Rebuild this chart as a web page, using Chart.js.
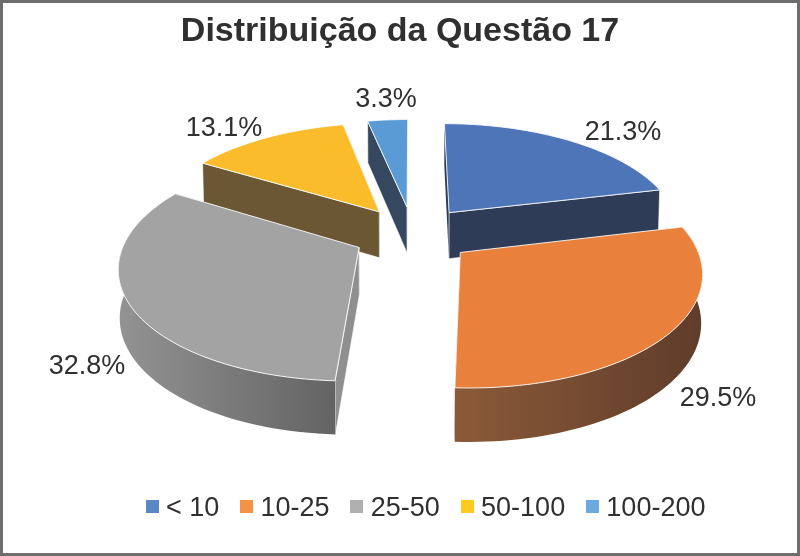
<!DOCTYPE html>
<html>
<head>
<meta charset="utf-8">
<title>Distribuição da Questão 17</title>
<script src="https://cdn.jsdelivr.net/npm/chart.js@4"></script>
<style>
  html, body { margin: 0; padding: 0; background: #fff; }
  canvas { display: block; }
</style>
</head>
<body>
<canvas id="pieChart" width="800" height="556"></canvas>
<script>
const categories = ['< 10', '10-25', '25-50', '50-100', '100-200'];
const shares = [21.3, 29.5, 32.8, 13.1, 3.3];

const legendColors = ['#5b87c5', '#f4924a', '#b0b0b0', '#ffc91e', '#6ca9de'];
const topColors = ['#4e75b8', '#e9803c', '#a3a3a3', '#fbbc2b', '#5b9bd5'];
const cutColors = ['#2f3c58', '#8b5a38', '#8f8f8f', '#6c5735', '#35485f'];
const wallLeft = ['#2f3c58', '#8b5a38', '#939393', '#6c5735', '#35485f'];
const wallRight = ['#2f3c58', '#5f3c2b', '#636363', '#6c5735', '#35485f'];

// where each percentage sits, centre of the text
const labelAnchors = [[623, 133], [718, 399], [87, 367], [224, 129], [386, 100]];

// the 3D look: ground plane of the pie seen in perspective
const view = { cx: 413, cy: 234, radius: 232, explode: 60, tilt: 0.468, far: 1517, depth: 47, baseShrink: 0.995 };
const legendShift = 28.5;

function project(x, y, low) {
    const w = 1 / (1 - y / view.far);
    let sx = x * w;
    let sy = view.cy + view.tilt * y * w;
    if (low) {
        sx *= view.baseShrink;
        sy += view.depth * Math.pow(w, 0.7);
    }
    return [view.cx + sx, sy];
}

function tracePoly(ctx, pts) {
    ctx.beginPath();
    pts.forEach((p, i) => i ? ctx.lineTo(p[0], p[1]) : ctx.moveTo(p[0], p[1]));
    ctx.closePath();
}

function drawSlice(ctx, arc, i) {
    const a0 = arc.startAngle;
    const a1 = arc.endAngle;
    const mid = (a0 + a1) / 2;
    const ox = view.explode * Math.cos(mid);
    const oy = view.explode * Math.sin(mid);
    const rim = a => [ox + view.radius * Math.cos(a), oy + view.radius * Math.sin(a)];

    // the two cut faces, the one turned away first
    const faces = [
        { a: a0, facing: -Math.cos(a0) },
        { a: a1, facing: Math.cos(a1) }
    ].sort((f, g) => f.facing - g.facing);
    faces.forEach(f => {
        const r = rim(f.a);
        tracePoly(ctx, [project(ox, oy), project(r[0], r[1]), project(r[0], r[1], true), project(ox, oy, true)]);
        ctx.fillStyle = cutColors[i];
        ctx.fill();
        if (f.facing > 0) {
            ctx.strokeStyle = 'rgba(255,255,255,0.8)';
            ctx.lineWidth = 0.8;
            ctx.stroke();
        }
    });

    // outer wall
    const steps = 64;
    const upper = [];
    const lower = [];
    for (let s = 0; s <= steps; s++) {
        const a = a0 + (a1 - a0) * s / steps;
        if (Math.sin(a) < -0.25) continue;
        const r = rim(a);
        upper.push(project(r[0], r[1]));
        lower.push(project(r[0], r[1], true));
    }
    if (upper.length > 1) {
        const xs = upper.concat(lower).map(p => p[0]);
        const grad = ctx.createLinearGradient(Math.min(...xs), 0, Math.max(...xs), 0);
        grad.addColorStop(0, wallLeft[i]);
        grad.addColorStop(1, wallRight[i]);
        tracePoly(ctx, upper.concat(lower.reverse()));
        ctx.fillStyle = grad;
        ctx.fill();
    }

    // top face
    const top = [project(ox, oy)];
    for (let s = 0; s <= steps; s++) {
        const r = rim(a0 + (a1 - a0) * s / steps);
        top.push(project(r[0], r[1]));
    }
    tracePoly(ctx, top);
    ctx.fillStyle = topColors[i];
    ctx.fill();
    ctx.strokeStyle = 'rgba(255,255,255,0.85)';
    ctx.lineWidth = 1;
    ctx.stroke();
}

const pie3d = {
    id: 'pie3d',
    afterLayout(chart) {
        chart.legend.left += legendShift;
        chart.legend.right += legendShift;
    },
    beforeDraw(chart) {
        const ctx = chart.ctx;
        ctx.save();
        ctx.strokeStyle = '#6e6e6e';
        ctx.lineWidth = 3;
        ctx.strokeRect(1.5, 1.5, chart.width - 3, chart.height - 3);
        ctx.restore();
    },
    beforeDatasetsDraw(chart) {
        const ctx = chart.ctx;
        const arcs = chart.getDatasetMeta(0).data;
        const order = arcs.map((arc, i) => i).sort((p, q) => {
            const mp = (arcs[p].startAngle + arcs[p].endAngle) / 2;
            const mq = (arcs[q].startAngle + arcs[q].endAngle) / 2;
            return Math.sin(mp) - Math.sin(mq);
        });
        ctx.save();
        order.forEach(i => drawSlice(ctx, arcs[i], i));
        ctx.fillStyle = '#303030';
        ctx.font = '27px "Liberation Sans"';
        ctx.textAlign = 'center';
        ctx.textBaseline = 'middle';
        shares.forEach((v, i) => ctx.fillText(v.toFixed(1) + '%', labelAnchors[i][0], labelAnchors[i][1]));
        ctx.restore();
        return false; // flat arcs are replaced by the faces above
    }
};

function legendSquare(color) {
    // extra clear rows at the bottom lift the square up to the text's middle
    const c = document.createElement('canvas');
    c.width = 13;
    c.height = 17;
    const g = c.getContext('2d');
    g.fillStyle = color;
    g.fillRect(0, 0, 13, 13);
    return c;
}

new Chart(document.getElementById('pieChart'), {
    type: 'pie',
    data: {
        labels: categories,
        datasets: [{ data: shares, backgroundColor: legendColors, borderWidth: 0 }]
    },
    plugins: [pie3d],
    options: {
        responsive: false,
        animation: false,
        layout: { padding: { top: 6, bottom: 24 } },
        plugins: {
            tooltip: { enabled: false },
            title: {
                display: true,
                text: 'Distribuição da Questão 17',
                color: '#303030',
                font: { family: '"Liberation Sans"', size: 34, weight: 'bold' },
                padding: { top: 5, bottom: 10 }
            },
            legend: {
                position: 'bottom',
                labels: {
                    color: '#303030',
                    font: { family: '"Liberation Sans"', size: 27 },
                    usePointStyle: true,
                    pointStyleWidth: 1,
                    boxHeight: 13,
                    padding: 26.7,
                    generateLabels: chart => categories.map((text, i) => ({
                        text: text,
                        index: i,
                        fontColor: '#303030',
                        pointStyle: legendSquare(legendColors[i])
                    }))
                }
            }
        }
    }
});
</script>
</body>
</html>
